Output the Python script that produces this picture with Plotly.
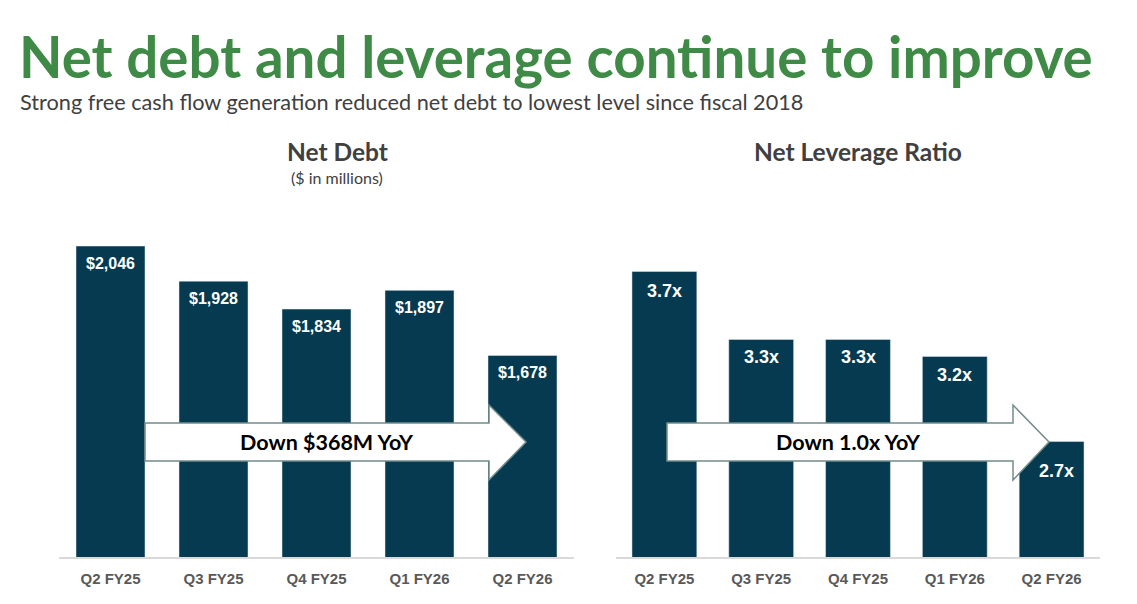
import plotly.graph_objects as go

# Daten
quarters = ['Q2 FY25', 'Q3 FY25', 'Q4 FY25', 'Q1 FY26', 'Q2 FY26']
net_debt = [2046, 1928, 1834, 1897, 1678]
net_debt_labels = ['$2,046', '$1,928', '$1,834', '$1,897', '$1,678']
leverage = [3.7, 3.3, 3.3, 3.2, 2.7]
leverage_labels = ['3.7x', '3.3x', '3.3x', '3.2x', '2.7x']

W, H = 1137, 604
BAR = '#053a50'
GREY_TXT = '#404040'
TICK_TXT = '#595959'


def px(x):
    return x / W


def py(y):
    return (H - y) / H


fig = go.Figure()

fig.add_trace(go.Bar(x=quarters, y=net_debt, marker_color=BAR,
                     xaxis='x', yaxis='y', hoverinfo='skip'))
fig.add_trace(go.Bar(x=quarters, y=leverage, marker_color=BAR,
                     xaxis='x2', yaxis='y2', hoverinfo='skip'))

# Werte-Labels in den Balken
annotations = []
for q, v, t in zip(quarters, net_debt, net_debt_labels):
    annotations.append(dict(x=q, y=v, xref='x', yref='y', text=f'<b>{t}</b>', showarrow=False,
                            yshift=-17, xanchor='center', yanchor='middle',
                            font=dict(family='Liberation Sans', size=16, color='white')))
shift2 = [-20, -18, -18, -19, -30]
xs2 = [0, 0, 0, 0, 5]
for q, v, t, s, xs in zip(quarters, leverage, leverage_labels, shift2, xs2):
    annotations.append(dict(x=q, y=v, xref='x2', yref='y2', text=f'<b>{t}</b>', showarrow=False,
                            yshift=s, xshift=xs, xanchor='center', yanchor='middle',
                            font=dict(family='Liberation Sans', size=18, color='white')))

# Titel
annotations.append(dict(x=px(17), y=py(56), xref='paper', yref='paper', xanchor='left', yanchor='middle',
                        text='<b>Net debt and leverage continue to improve</b>', showarrow=False,
                        font=dict(family='Lato', size=56.5, color='#3f8a46')))
annotations.append(dict(x=px(18), y=py(102), xref='paper', yref='paper', xanchor='left', yanchor='middle',
                        text='Strong free cash flow generation reduced net debt to lowest level since fiscal 2018',
                        showarrow=False, font=dict(family='Lato', size=21.7, color=GREY_TXT)))
annotations.append(dict(x=px(337), y=py(152), xref='paper', yref='paper', text='<b>Net Debt</b>',
                        xanchor='center', yanchor='middle',
                        showarrow=False, font=dict(family='Lato', size=24.5, color=GREY_TXT)))
annotations.append(dict(x=px(337), y=py(177), xref='paper', yref='paper', text='($ in millions)',
                        xanchor='center', yanchor='middle',
                        showarrow=False, font=dict(family='Lato', size=16, color=GREY_TXT)))
annotations.append(dict(x=px(858), y=py(152), xref='paper', yref='paper', text='<b>Net Leverage Ratio</b>',
                        xanchor='center', yanchor='middle',
                        showarrow=False, font=dict(family='Lato', size=24.5, color=GREY_TXT)))


# Pfeile
def arrow_path(x0, xb, xt, y_top=423, y_bot=461, h_top=405, h_bot=480, y_mid=442):
    pts = [(x0, y_top), (xb, y_top), (xb, h_top), (xt, y_mid), (xb, h_bot), (xb, y_bot), (x0, y_bot)]
    return 'M ' + ' L '.join(f'{px(a):.5f},{py(b):.5f}' for a, b in pts) + ' Z'


shapes = [
    dict(type='path', xref='paper', yref='paper', path=arrow_path(145, 489, 526),
         fillcolor='white', line=dict(color='#728c8a', width=1.5), layer='above'),
    dict(type='path', xref='paper', yref='paper', path=arrow_path(667, 1013, 1049),
         fillcolor='white', line=dict(color='#728c8a', width=1.5), layer='above'),
]
annotations.append(dict(x=px(327), y=py(442), xref='paper', yref='paper', text='<b>Down $368M YoY</b>',
                        xanchor='center', yanchor='middle',
                        showarrow=False, font=dict(family='Lato', size=21.5, color='black')))
annotations.append(dict(x=px(848), y=py(442), xref='paper', yref='paper', text='<b>Down 1.0x YoY</b>',
                        xanchor='center', yanchor='middle',
                        showarrow=False, font=dict(family='Lato', size=21.5, color='black')))

ydom = [py(557), py(200)]
xaxis_common = dict(showline=True, linecolor='#d9d9d9', linewidth=2, ticks='', showgrid=False,
                    tickfont=dict(family='Liberation Sans', size=15, color=TICK_TXT),
                    ticklabelstandoff=7, fixedrange=True)
yaxis_common = dict(visible=False, showgrid=False, zeroline=False, fixedrange=True)

fig.update_layout(
    width=W, height=H, autosize=False,
    margin=dict(l=0, r=0, t=0, b=0),
    paper_bgcolor='white', plot_bgcolor='white',
    showlegend=False,
    bargap=0.33,
    xaxis=dict(domain=[px(59), px(574)], anchor='y', **xaxis_common),
    yaxis=dict(domain=ydom, range=[1000, 2201], anchor='x', **yaxis_common),
    xaxis2=dict(domain=[px(616), px(1100)], anchor='y2', **xaxis_common),
    yaxis2=dict(domain=ydom, range=[2.02, 4.12], anchor='x2', **yaxis_common),
    annotations=annotations,
    shapes=shapes,
)

fig.update_xaxes(tickprefix='<b>', ticksuffix='</b>')

# Browser-Rand entfernen, damit die Figur bei (0,0) beginnt
fig.write_html('out.html', config={'displayModeBar': False},
               post_script="document.body.style.margin='0';")
